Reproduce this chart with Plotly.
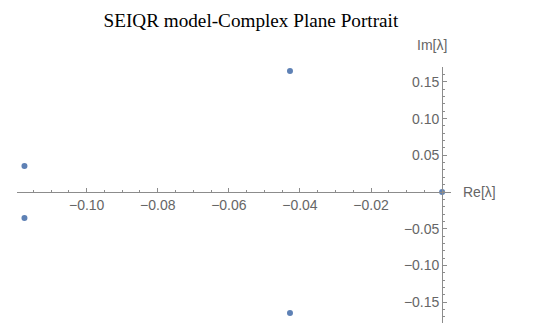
import plotly.graph_objects as go

# eigenvalues
re_vals = [-0.1175, -0.1175, -0.0428, -0.0428, 0.0]
im_vals = [0.0355, -0.0355, 0.165, -0.165, 0.0]

x_ticks = [-0.10, -0.08, -0.06, -0.04, -0.02]
x_labels = ["\u22120.10", "\u22120.08", "\u22120.06", "\u22120.04", "\u22120.02"]
y_ticks = [-0.15, -0.10, -0.05, 0.05, 0.10, 0.15]
y_labels = ["\u22120.15", "\u22120.10", "\u22120.05", "0.05", "0.10", "0.15"]

x_range = [-0.1196, 0.0025]
y_range = [-0.1785, 0.1703]

grey = "#8c8c8c"
label_grey = "#666666"

fig = go.Figure()
fig.add_trace(go.Scatter(
    x=re_vals, y=im_vals, mode="markers",
    marker=dict(color="#5e81b5", size=6),
    hoverinfo="x+y", showlegend=False,
))

# put the axes through the origin, Mathematica style
x_pos = (0 - y_range[0]) / (y_range[1] - y_range[0])
y_pos = (0 - x_range[0]) / (x_range[1] - x_range[0])

# page body has an 8px margin, so the figure is 8px smaller each way
fig.update_layout(
    width=528, height=323,
    margin=dict(l=9, r=85, t=59, b=8, autoexpand=False),
    paper_bgcolor="white", plot_bgcolor="white",
    title=dict(text="SEIQR model-Complex Plane Portrait", x=0.46, xanchor="center",
               y=1 - 12 / 323, yanchor="middle",
               font=dict(family="Liberation Serif", size=19.2, color="black")),
    xaxis=dict(range=x_range, anchor="free", position=x_pos, automargin=False,
               showgrid=False, zeroline=False, showline=True, linecolor=grey, linewidth=1,
               tickmode="array", tickvals=x_ticks, ticktext=x_labels,
               ticks="inside", ticklen=4, tickcolor=grey,
               minor=dict(dtick=0.005, ticks="inside", ticklen=2, tickcolor=grey),
               tickfont=dict(family="Liberation Sans", size=14, color=label_grey)),
    yaxis=dict(range=y_range, anchor="free", position=y_pos, automargin=False,
               showgrid=False, zeroline=False, showline=True, linecolor=grey, linewidth=1,
               tickmode="array", tickvals=y_ticks, ticktext=y_labels,
               ticks="inside", ticklen=4, tickcolor=grey,
               minor=dict(dtick=0.01, ticks="inside", ticklen=2, tickcolor=grey),
               tickfont=dict(family="Liberation Sans", size=14, color=label_grey)),
    annotations=[
        dict(text="Re[\u03bb]", x=1.0, xref="paper", y=0, yref="y",
             xanchor="left", yanchor="middle", xshift=10, showarrow=False,
             font=dict(family="Liberation Sans", size=14, color=label_grey)),
        dict(text="Im[\u03bb]", x=0, xref="x", y=1.0, yref="paper",
             xanchor="center", yanchor="bottom", xshift=-10, yshift=12, showarrow=False,
             font=dict(family="Liberation Sans", size=14, color=label_grey)),
    ],
)

fig.write_html("out.html")
